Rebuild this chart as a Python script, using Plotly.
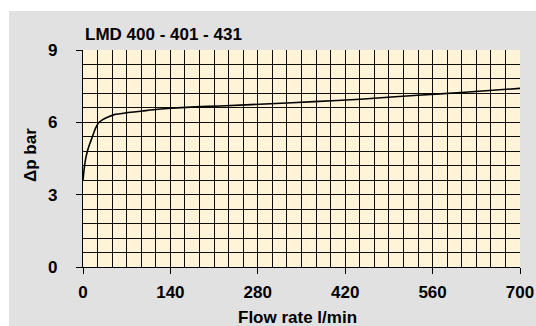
import plotly.graph_objects as go

# Data
flow = [0, 2, 4, 7, 10, 15, 20, 25, 31, 40, 50, 70, 95, 120, 150, 180, 220, 300, 370, 444, 500, 572, 640, 700]
dp = [3.6, 4.1, 4.45, 4.8, 5.05, 5.4, 5.75, 5.98, 6.1, 6.22, 6.32, 6.4, 6.47, 6.54, 6.6, 6.64, 6.68, 6.77, 6.86, 6.96, 7.06, 7.18, 7.3, 7.41]
x_ticks = [0, 140, 280, 420, 560, 700]
y_ticks = [0, 3, 6, 9]
title_text = "LMD 400 - 401 - 431"
x_title = "Flow rate l/min"
y_title = "Δp bar"

W, H = 536, 326
L, R, T, B = 83, 16, 50, 59
pw, ph = W - L - R, H - T - B

def px(xp):
    return (xp - L) / pw

def py(yp):
    return (H - B - yp) / ph

FONT = "Liberation Sans, Arial, sans-serif"
GRID = "#0f0c08"

fig = go.Figure()
fig.add_trace(go.Scatter(x=flow, y=dp, mode="lines",
                         line=dict(color="black", width=1.6, shape="spline", smoothing=0.6),
                         hoverinfo="skip", showlegend=False))

fig.update_layout(
    width=W, height=H,
    margin=dict(l=L, r=R, t=T, b=B, autoexpand=False),
    paper_bgcolor="#E1E1E1",
    plot_bgcolor="#FFF3D8",
    font=dict(family=FONT, size=17, color="black", weight="bold"),
    showlegend=False,
)

fig.update_xaxes(
    range=[0, 700], tickvals=x_ticks, ticks="outside", ticklen=6, tickwidth=1.2,
    tickcolor="black", showline=True, linecolor="black", linewidth=1.2,
    showgrid=True, gridcolor=GRID, gridwidth=1.2, zeroline=False,
    minor=dict(dtick=700 / 30, tick0=0, showgrid=True, gridcolor=GRID, gridwidth=1.2, ticks=""),
    ticklabelstandoff=3, automargin=False, fixedrange=True,
)
fig.update_yaxes(
    range=[0, 9], tickvals=y_ticks, ticks="outside", ticklen=6, tickwidth=1.2,
    tickcolor="black", showline=True, linecolor="black", linewidth=1.2,
    showgrid=True, gridcolor=GRID, gridwidth=1.2, zeroline=False,
    minor=dict(dtick=0.6, tick0=0, showgrid=True, gridcolor=GRID, gridwidth=1.2, ticks=""),
    ticklabelstandoff=15, automargin=False, fixedrange=True,
)

# white strips (top and left) of the reference frame
fig.add_shape(type="rect", xref="paper", yref="paper",
              x0=px(0), x1=px(W), y0=py(11), y1=py(0),
              fillcolor="white", line_width=0, layer="below")
fig.add_shape(type="rect", xref="paper", yref="paper",
              x0=px(0), x1=px(9), y0=py(H), y1=py(0),
              fillcolor="white", line_width=0, layer="below")

fig.add_annotation(text=title_text, xref="paper", yref="paper",
                   x=px(83), y=py(46), xanchor="left", yanchor="bottom",
                   showarrow=False, font=dict(size=17))
fig.add_annotation(text=y_title, xref="paper", yref="paper",
                   x=px(30), y=py(155), xanchor="center", yanchor="middle",
                   textangle=-90, showarrow=False, font=dict(size=17))
fig.add_annotation(text=x_title, xref="paper", yref="paper",
                   x=px(297), y=py(317), xanchor="center", yanchor="middle",
                   showarrow=False, font=dict(size=17))

fig.write_html("out.html", config={"displayModeBar": False},
               post_script="document.body.style.margin='0';document.body.style.overflow='hidden';")
